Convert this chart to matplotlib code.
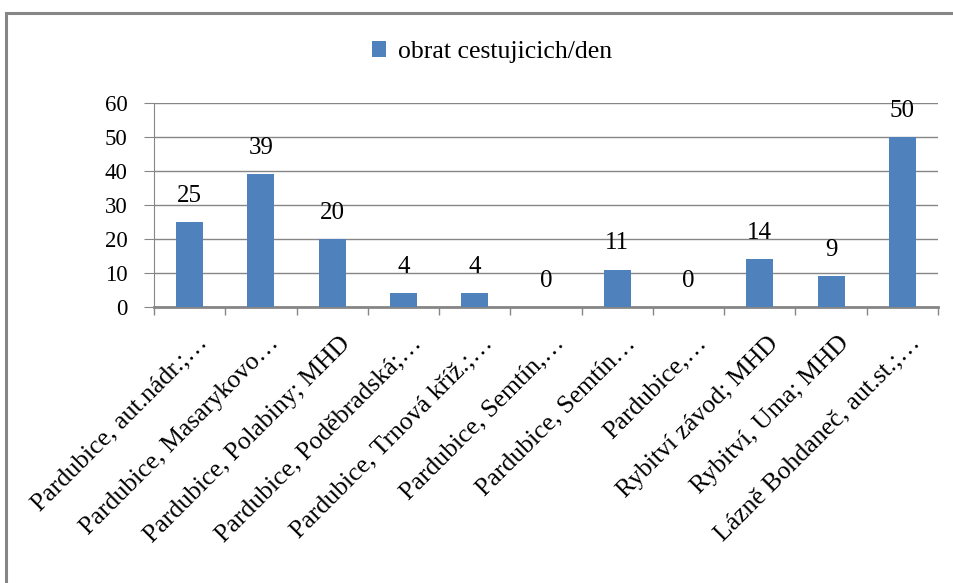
import matplotlib.pyplot as plt
import numpy as np
from matplotlib.patches import Rectangle
from matplotlib.transforms import ScaledTranslation

zastavky = ['Pardubice, aut.nádr.;…', 'Pardubice, Masarykovo…',
            'Pardubice, Polabiny; MHD', 'Pardubice, Poděbradská;…',
            'Pardubice, Trnová kříž.;…', 'Pardubice, Semtín,…',
            'Pardubice, Semtín…', 'Pardubice,…', 'Rybitví závod; MHD',
            'Rybitví, Uma; MHD', 'Lázně Bohdaneč, aut.st.;…']
obrat = [25, 39, 20, 4, 4, 0, 11, 0, 14, 9, 50]
serie = 'obrat cestujicich/den'
y_ticks = [0, 10, 20, 30, 40, 50, 60]

plt.rcParams['font.family'] = ['Liberation Serif', 'DejaVu Serif']
seda = '#868686'

fig = plt.figure(figsize=(9.54, 5.83), dpi=100)
ax = fig.add_axes([0.1614, 0.4734, 0.8218, 0.3499])

pos = np.arange(len(zastavky))
sloupce = ax.bar(pos, obrat, 0.38, color='#4F81BD', label=serie, zorder=3)

# popisky hodnot nad sloupci
for x, v in zip(pos, obrat):
    ax.annotate(str(v), (x, v), xytext=(0, 11), textcoords='offset points',
                ha='center', va='bottom', fontsize=18)

ax.set_xlim(-0.5, len(zastavky) - 0.5)
ax.set_ylim(0, 60)
ax.set_yticks(y_ticks)
ax.tick_params(axis='y', labelsize=16.5, length=7, color=seda, pad=12)
ax.yaxis.grid(True, color=seda, linewidth=1)
ax.set_axisbelow(True)

# carky na ose x mezi kategoriemi
ax.set_xticks(np.arange(-0.5, len(zastavky)), minor=False)
ax.set_xticklabels([])
ax.tick_params(axis='x', length=6, color=seda, width=1)
ax.set_xticks(pos, minor=True)
ax.set_xticklabels(zastavky, minor=True, rotation=45, ha='right',
                   va='center', rotation_mode='anchor', fontsize=18.5)
ax.tick_params(axis='x', which='minor', length=0, pad=0)
posun = ScaledTranslation(0.15, -0.33, fig.dpi_scale_trans)
for t in ax.get_xticklabels(minor=True):
    t.set_transform(t.get_transform() + posun)

for s in ['top', 'right']:
    ax.spines[s].set_visible(False)
ax.spines['left'].set_color(seda)
ax.spines['bottom'].set_color(seda)
ax.spines['bottom'].set_linewidth(2)

fig.legend(handles=[sloupce], labels=[serie], loc='center',
           bbox_to_anchor=(492 / 954, 1 - 52 / 583), frameon=False,
           fontsize=18.5, handlelength=0.55, handleheight=0.55, handletextpad=0.45)

# ramecek grafu
fig.patches.append(Rectangle((6 / 954, -0.05), 1.1, 1 - 13 / 583 + 0.05,
                             transform=fig.transFigure, fill=False,
                             edgecolor=seda, linewidth=2.2, clip_on=False))

fig.savefig('out.png', dpi=100)
